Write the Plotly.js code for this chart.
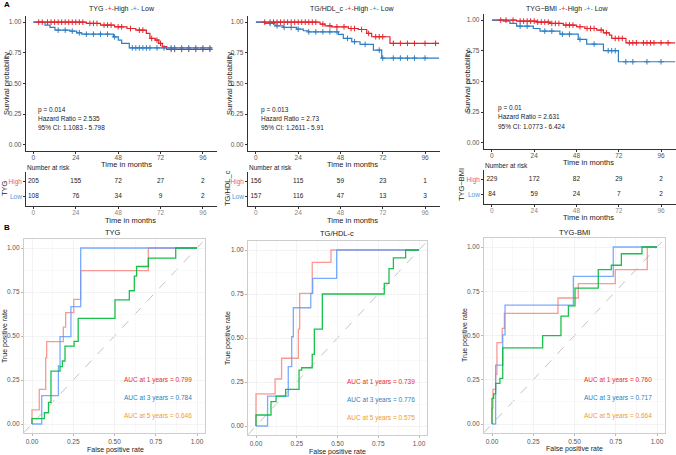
<!DOCTYPE html>
<html><head><meta charset="utf-8">
<script src="https://cdn.plot.ly/plotly-3.0.1.min.js"></script>
<style>html,body{margin:0;padding:0;background:#fff}#c{width:676px;height:455px}</style>
</head><body><div id="c"></div>
<script>
// ---------- DATA ----------
const groupNames = ["TYG", "TG/HDL_c", "TYG\u2212BMI"];
const rocTitles = ["TYG", "TG/HDL-c", "TYG-BMI"];
const riskTimes = [0, 24, 48, 72, 96];

// KM curves (time in months, survival probability)
const km1HighT = [0, 30, 38, 46, 53, 58, 64, 66, 69, 71, 73, 75.5, 101];
const km1HighS = [1, 0.99, 0.976, 0.962, 0.948, 0.935, 0.908, 0.867, 0.854, 0.827, 0.80, 0.778, 0.778];
const km1LowT = [0, 6.6, 9.4, 12.2, 20.7, 24.5, 27.4, 45.3, 48.1, 50, 54.3, 101];
const km1LowS = [1, 0.976, 0.957, 0.935, 0.927, 0.913, 0.902, 0.88, 0.854, 0.827, 0.79, 0.79];
const km2HighT = [0, 36.4, 39.2, 43, 52.5, 58.1, 62.9, 65.7, 76.1, 104];
const km2HighS = [1, 0.984, 0.97, 0.962, 0.948, 0.94, 0.908, 0.881, 0.827, 0.827];
const km2LowT = [0, 5.1, 10.8, 15.5, 23.1, 26.9, 29.7, 46.8, 49.6, 54.4, 59.1, 66.7, 71.4, 104];
const km2LowS = [1, 0.989, 0.97, 0.957, 0.943, 0.93, 0.921, 0.9, 0.867, 0.84, 0.819, 0.772, 0.707, 0.707];
const km3HighT = [0, 14, 25.4, 33, 40.5, 48.1, 52.8, 59.5, 63.3, 66.7, 68, 76.1, 104];
const km3HighS = [1, 0.992, 0.984, 0.973, 0.96, 0.946, 0.932, 0.919, 0.897, 0.878, 0.851, 0.815, 0.815];
const km3LowT = [0, 6.4, 10.2, 14, 23.5, 27.3, 38.6, 49, 53.8, 63.3, 71.8, 104];
const km3LowS = [1, 0.992, 0.973, 0.951, 0.932, 0.911, 0.886, 0.843, 0.805, 0.751, 0.661, 0.661];

// censoring times
const cen1High = [3,5,8,10,12,14,16,18,20,22,24,26,28,32,34,36,40,42,44,48,50,55,60,62,67,70,72,78,80,84,88,92,96,100];
const cen1Low = [14,18,22,26,30,34,38,42,46,56,58,60,62,64,66,70,74,78,80,84,88,92,96,100];
const cen2High = [5,8,10,12,14,16,18,20,22,24,26,28,30,32,34,38,42,46,50,54,56,60,64,68,70,72,78,82,86,90,96,102];
const cen2Low = [8,12,16,20,24,30,34,38,42,46,52,56,62,70,72,78,82,86,90,96];
const cen3High = [5,8,12,16,18,20,22,24,26,28,30,32,34,36,38,42,44,46,50,54,56,58,62,65,70,72,74,78,80,82,86,88,90,92,96,100];
const cen3Low = [16,20,30,34,40,44,50,58,66,68,70,76,80,88,96];

// number at risk
const risk1High = [205, 155, 72, 27, 2];
const risk1Low = [108, 76, 34, 9, 2];
const risk2High = [156, 115, 59, 23, 1];
const risk2Low = [157, 116, 47, 13, 3];
const risk3High = [229, 172, 82, 29, 2];
const risk3Low = [84, 59, 24, 7, 2];

// KM statistics text
const pText = ["p = 0.014", "p = 0.013", "p = 0.01"];
const hrText = ["Hazard Ratio = 2.535", "Hazard Ratio = 2.73", "Hazard Ratio = 2.631"];
const ciText = ["95% CI: 1.1083 - 5.798", "95% CI: 1.2611 - 5.91", "95% CI: 1.0773 - 6.424"];

// ROC step corners (fpr, tpr), drawn with vertical-then-horizontal steps
const roc1Y1F = [0,0.044,0.083,0.089,0.19,0.204,0.253,0.295,0.705,1];
const roc1Y1T = [0,0.08,0.197,0.377,0.468,0.55,0.633,0.708,0.871,1];
const roc1Y3F = [0,0.059,0.16,0.17,0.236,0.295,1];
const roc1Y3T = [0,0,0.161,0.33,0.496,0.667,1];
const roc1Y5F = [0,0.075,0.1,0.115,0.17,0.184,0.2,0.255,0.28,0.503,0.59,0.62,0.634,0.705,0.871,1];
const roc1Y5T = [0,0.03,0.064,0.123,0.30,0.326,0.358,0.443,0.47,0.60,0.705,0.757,0.84,0.895,0.943,1];
const roc2Y1F = [0,0.117,0.157,0.26,0.268,0.345,0.46,1];
const roc2Y1T = [0,0.182,0.267,0.385,0.55,0.754,0.93,1];
const roc2Y3F = [0,0.071,0.198,0.219,0.229,0.336,0.348,0.495,1];
const roc2Y3T = [0,0,0.17,0.337,0.507,0.672,0.754,0.839,1];
const roc2Y5F = [0,0.092,0.123,0.182,0.264,0.28,0.345,0.358,0.407,0.787,0.816,0.843,0.918,1];
const roc2Y5T = [0,0.0625,0.138,0.17,0.208,0.318,0.331,0.407,0.55,0.75,0.81,0.894,0.955,1];
const roc3Y1F = [0,0.006,0.022,0.03,0.062,0.075,0.40,0.523,0.747,0.941,1];
const roc3Y1T = [0,0.09,0.196,0.28,0.46,0.54,0.625,0.712,0.793,0.872,1];
const roc3Y3F = [0,0.022,0.065,0.079,0.493,0.735,1];
const roc3Y3T = [0,0,0.333,0.503,0.672,0.834,1];
const roc3Y5F = [0,0.01,0.022,0.048,0.065,0.307,0.418,0.463,0.503,0.644,0.723,0.784,0.909,1];
const roc3Y5T = [0,0.145,0.17,0.23,0.258,0.43,0.499,0.61,0.667,0.768,0.872,0.897,0.962,1];

const aucLabels = [
  ["AUC at 1 years = 0.799", "AUC at 3 years = 0.784", "AUC at 5 years = 0.646"],
  ["AUC at 1 years = 0.739", "AUC at 3 years = 0.776", "AUC at 5 years = 0.575"],
  ["AUC at 1 years = 0.760", "AUC at 3 years = 0.717", "AUC at 5 years = 0.664"]
];
const aucPosY = [0.25, 0.148, 0.046];

// ---------- STYLE / LAYOUT ----------
const W = 676, H = 455;
const FONT = "Liberation Sans, Arial, sans-serif";
const RED = "#E3242B", BLUE = "#2E7EC3";
const RISK_RED = "#EE5A5F", RISK_BLUE = "#4C9BD6";
const ROC_COL = ["rgba(248,118,109,0.75)", "rgba(97,156,255,0.85)", "rgba(0,186,56,0.9)"];
const AUC_COL = ["#EE2A2E", "#2C7FC0", "#F09A2A"];
const TS = 6.5; // small text size

const dx = (a, b) => [a / W, b / W];
const dy = (top, bot) => [1 - bot / H, 1 - top / H];

// panel geometry (pixels)
const kmX = [[26, 217], [248, 440], [484, 676]];
const kmXr = [[-4.2, 104], [-4.5, 104.5], [-4.5, 104.5]];
const kmY = [[16, 151], [16, 151], [14, 149]];
const rkY = [[172, 206], [172, 206], [170, 204]];
const rocX = [[23.75, 205.25], [247.85, 427.15], [483.75, 665.25]];
const rocY = [[239.2, 432.8], [241.2, 434.8], [238.15, 432.85]];

function stepAt(T, S, t) { let v = S[0]; for (let i = 0; i < T.length; i++) if (T[i] <= t) v = S[i]; return v; }

const traces = [];
const kmSets = [
  [km1HighT, km1HighS, km1LowT, km1LowS, cen1High, cen1Low, risk1High, risk1Low],
  [km2HighT, km2HighS, km2LowT, km2LowS, cen2High, cen2Low, risk2High, risk2Low],
  [km3HighT, km3HighS, km3LowT, km3LowS, cen3High, cen3Low, risk3High, risk3Low]
];
const rocSets = [
  [[roc1Y1F, roc1Y1T], [roc1Y3F, roc1Y3T], [roc1Y5F, roc1Y5T]],
  [[roc2Y1F, roc2Y1T], [roc2Y3F, roc2Y3T], [roc2Y5F, roc2Y5T]],
  [[roc3Y1F, roc3Y1T], [roc3Y3F, roc3Y3T], [roc3Y5F, roc3Y5T]]
];

const layout = {
  width: W, height: H, margin: {l: 0, r: 0, t: 0, b: 0},
  paper_bgcolor: "#fff", plot_bgcolor: "rgba(0,0,0,0)",
  showlegend: false, font: {family: FONT, size: TS, color: "#222"},
  annotations: [], shapes: []
};

function ann(text, px, py, o) {
  o = o || {};
  layout.annotations.push(Object.assign({
    text: text, xref: "paper", yref: "paper", x: px / W, y: 1 - py / H,
    xanchor: "center", yanchor: "middle", showarrow: false,
    font: {family: FONT, size: TS, color: "#222"}
  }, o));
}

const ax = i => (i === 1 ? "" : String(i));

for (let p = 0; p < 3; p++) {
  const [hT, hS, lT, lS, cH, cL, rH, rL] = kmSets[p];
  // --- KM ---
  const kx = "x" + ax(p + 1), ky = "y" + ax(p + 1);
  [[hT, hS, RED], [lT, lS, BLUE]].forEach(([T, S, col]) => {
    traces.push({x: T, y: S, xaxis: kx, yaxis: ky, type: "scatter", mode: "lines",
      line: {shape: "hv", color: col, width: 1.2}, hoverinfo: "skip"});
  });
  [[cH, hT, hS, RED], [cL, lT, lS, BLUE]].forEach(([C, T, S, col]) => {
    traces.push({x: C, y: C.map(t => stepAt(T, S, t)), xaxis: kx, yaxis: ky, type: "scatter", mode: "markers",
      marker: {symbol: "cross-thin", size: 4, line: {width: 1, color: col}, color: col}, hoverinfo: "skip"});
  });
  layout["xaxis" + ax(p + 1)] = {
    domain: dx(...kmX[p]), range: kmXr[p], anchor: ky, showline: true, linecolor: "#000", linewidth: 0.8,
    ticks: "outside", ticklen: 2.5, tickwidth: 0.8, tickcolor: "#000", showgrid: false, zeroline: false,
    tickmode: "array", tickvals: riskTimes, tickfont: {size: TS, color: "#555", family: FONT},
    ticklabelstandoff: -2, fixedrange: true
  };
  layout["yaxis" + ax(p + 1)] = {
    domain: dy(...kmY[p]), range: [-0.05, 1.05], anchor: kx, showline: true, linecolor: "#000", linewidth: 0.8,
    ticks: "outside", ticklen: 2.5, tickwidth: 0.8, tickcolor: "#000", showgrid: false, zeroline: false,
    tickmode: "array", tickvals: [0, 0.25, 0.5, 0.75, 1], ticktext: ["0.00", "0.25", "0.50", "0.75", "1.00"],
    tickfont: {size: TS, color: "#555", family: FONT}, fixedrange: true
  };
  // --- risk table ---
  const rx = "x" + (p + 4), ry = "y" + (p + 4);
  [[rH, 1], [rL, 0]].forEach(([R, lvl]) => {
    traces.push({x: riskTimes, y: riskTimes.map(() => lvl), text: R.map(String), xaxis: rx, yaxis: ry,
      type: "scatter", mode: "text", textfont: {size: TS, color: "#222", family: FONT}, hoverinfo: "skip"});
  });
  layout["xaxis" + (p + 4)] = {
    domain: dx(...kmX[p]), range: kmXr[p], anchor: ry, showline: true, linecolor: "#000", linewidth: 0.8,
    ticks: "outside", ticklen: 2, tickwidth: 0.8, tickcolor: "#000", showgrid: false, zeroline: false,
    tickmode: "array", tickvals: riskTimes, tickfont: {size: TS, color: "#888", family: FONT},
    ticklabelstandoff: -2, fixedrange: true
  };
  layout["yaxis" + (p + 4)] = {
    domain: dy(...rkY[p]), range: [-0.6, 1.6], anchor: rx, showline: true, linecolor: "#000", linewidth: 0.8,
    ticks: "outside", ticklen: 2, tickwidth: 0.8, tickcolor: "#000", showgrid: false, zeroline: false,
    tickmode: "array", tickvals: [1, 0],
    ticktext: ['<span style="color:' + RISK_RED + '">High</span>', '<span style="color:' + RISK_BLUE + '">Low</span>'],
    tickfont: {size: 6.5, family: FONT}, fixedrange: true
  };
  // --- ROC ---
  const ox = "x" + (p + 7), oy = "y" + (p + 7);
  layout.shapes.push({type: "line", xref: ox, yref: oy, x0: -0.05, y0: -0.05, x1: 1.05, y1: 1.05,
    line: {color: "#BBBBBB", width: 0.9, dash: "dash"}, layer: "below"});
  rocSets[p].forEach(([F, T], k) => {
    traces.push({x: F, y: T, xaxis: ox, yaxis: oy, type: "scatter", mode: "lines",
      line: {shape: "vh", color: ROC_COL[k], width: 1.3}, hoverinfo: "skip"});
  });
  const rocAxis = (dom, anchor) => ({
    domain: dom, range: [-0.05, 1.05], anchor: anchor, showline: true, mirror: true, linecolor: "#C8C8C8", linewidth: 0.9,
    ticks: "outside", ticklen: 2, tickwidth: 0.7, tickcolor: "#999", showgrid: true, gridcolor: "#EBEBEB", gridwidth: 0.6,
    zeroline: false, tickmode: "array", tickvals: [0, 0.25, 0.5, 0.75, 1],
    ticktext: ["0.00", "0.25", "0.50", "0.75", "1.00"], tickfont: {size: TS, color: "#555", family: FONT},
    minor: {tickmode: "array", tickvals: [0.125, 0.375, 0.625, 0.875], showgrid: true, gridcolor: "#F4F4F4", gridwidth: 0.5, ticks: ""},
    fixedrange: true
  });
  layout["xaxis" + (p + 7)] = rocAxis(dx(...rocX[p]), oy);
  layout["yaxis" + (p + 7)] = rocAxis(dy(...rocY[p]), ox);
  aucLabels[p].forEach((t, k) => {
    layout.annotations.push({text: t, xref: ox, yref: oy, x: 0.545, y: aucPosY[k], xanchor: "left", yanchor: "middle",
      showarrow: false, font: {family: FONT, size: TS, color: AUC_COL[k]}});
  });
}

// panel letters
ann("<b>A</b>", 2, 5, {xanchor: "left", font: {family: FONT, size: 8, color: "#000"}});
ann("<b>B</b>", 2, 227, {xanchor: "left", font: {family: FONT, size: 8, color: "#000"}});

// KM legends
const legX = [122, 352, 567];
for (let p = 0; p < 3; p++) {
  ann(groupNames[p] + ' <span style="color:' + RED + '">-+-</span>High <span style="color:' + BLUE + '">-+-</span> Low',
    legX[p], 9, {font: {family: FONT, size: 7, color: "#222"}});
}
// KM axis titles & stats
const kmYT = [[6, 84], [229, 84], [467, 82]];
const kmXT = [[127, 164], [352, 164], [588, 162]];
const statX = [36, 259, 496];
const statY = [[110, 119, 127], [110, 119, 127], [108, 117, 126]];
for (let p = 0; p < 3; p++) {
  ann("Survival probability", kmYT[p][0], kmYT[p][1], {textangle: -90, font: {family: FONT, size: 7.5, color: "#222"}});
  ann("Time in months", kmXT[p][0], kmXT[p][1], {font: {family: FONT, size: 7.5, color: "#222"}});
  ann(pText[p], statX[p], statY[p][0], {xanchor: "left"});
  ann(hrText[p], statX[p], statY[p][1], {xanchor: "left"});
  ann(ciText[p], statX[p], statY[p][2], {xanchor: "left"});
}
// risk table titles
const narX = [[25, 167], [247, 167], [483, 165]];
const rkYT = [[4, 188], [227, 188], [461, 185]];
const rkXT = [[130, 220], [352, 220], [588, 217]];
for (let p = 0; p < 3; p++) {
  ann("Number at risk", narX[p][0], narX[p][1], {xanchor: "left"});
  ann(groupNames[p], rkYT[p][0], rkYT[p][1], {textangle: -90, font: {family: FONT, size: 7.5, color: "#222"}});
  ann("Time in months", rkXT[p][0], rkXT[p][1], {font: {family: FONT, size: 7.5, color: "#222"}});
}
// ROC titles
const rocT = [[113, 233], [337, 234], [574, 233]];
const rocYT = [[5, 336], [228, 338], [465, 335]];
const rocXT = [[115, 450], [337, 452], [574, 449]];
for (let p = 0; p < 3; p++) {
  ann(rocTitles[p], rocT[p][0], rocT[p][1], {font: {family: FONT, size: 7.5, color: "#222"}});
  ann("True positive rate", rocYT[p][0], rocYT[p][1], {textangle: -90, font: {family: FONT, size: 7, color: "#222"}});
  ann("False positive rate", rocXT[p][0], rocXT[p][1], {font: {family: FONT, size: 7, color: "#222"}});
}

Plotly.newPlot("c", traces, layout, {staticPlot: true, displayModeBar: false});
</script></body></html>
